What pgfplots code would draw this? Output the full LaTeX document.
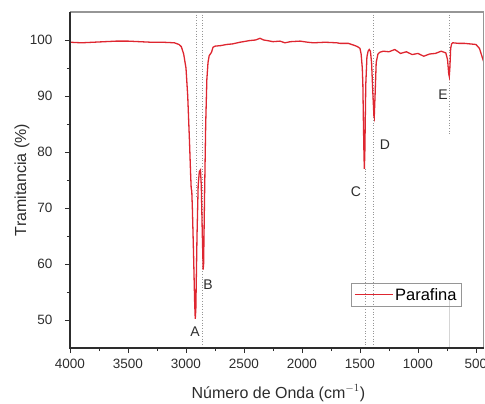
\documentclass[border=0pt]{standalone}
\usepackage{fontspec}
\setmainfont{Liberation Sans}
\usepackage{pgfplots}
\pgfplotsset{compat=1.18}
\definecolor{spec}{RGB}{222,38,48}
\definecolor{txt}{RGB}{45,45,45}
\definecolor{frame}{RGB}{150,150,150}

\begin{document}
\begin{tikzpicture}
\begin{axis}[
  scale only axis, width=413.5pt, height=336pt,
  x dir=reverse, xmin=435, xmax=4000,
  ymin=45, ymax=105,
  axis line style={draw=none},
  xtick={4000,3500,3000,2500,2000,1500,1000,500},
  ytick={50,60,70,80,90,100},
  minor tick num=1,
  xtick pos=bottom, ytick pos=left,
  tick align=outside,
  major tick length=5pt, minor tick length=3pt,
  every tick/.style={txt, line width=0.8pt},
  /pgf/number format/assume math mode=true,
  /pgf/number format/1000 sep={},
  tick label style={font=\fontsize{13.5}{15}\selectfont, text=txt},
  xticklabel style={yshift=-3pt},
  yticklabel style={xshift=-9pt},
  xlabel={Número de Onda (cm$^{-1}$)},
  ylabel={Tramitancia (\%)},
  label style={font=\fontsize{16}{18}\selectfont, text=txt},
  xlabel style={at={(axis description cs:0.504,-0.134)}, anchor=center},
  ylabel style={at={(axis description cs:-0.116,0.5)}, anchor=center, rotate=0},
  legend style={at={(axis description cs:0.948,0.122)}, anchor=south east,
    draw=frame, fill=none, line width=0.8pt, font=\fontsize{16.5}{18}\selectfont,
    inner xsep=3pt, inner ysep=3pt},
  legend image code/.code={\draw[spec, line width=1pt] (0pt,0pt) -- (38pt,0pt);},
]
% marker lines
\addplot[frame, dotted, line width=0.7pt, forget plot] coordinates {(2908,105)(2908,72)};
\addplot[frame, dotted, line width=0.7pt, forget plot] coordinates {(2860,105)(2860,45)};
\addplot[frame, dotted, line width=0.7pt, forget plot] coordinates {(1457,77)(1457,45)};
\addplot[frame, dotted, line width=0.7pt, forget plot] coordinates {(1384,105)(1384,45)};
\addplot[frame, dotted, line width=0.7pt, forget plot] coordinates {(733,105)(733,83)};
\addplot[frame!40, line width=0.4pt, forget plot] coordinates {(733,55)(733,45)};

\addplot[spec, line width=1.3pt] coordinates {
(4000,99.6)(3900,99.5)(3800,99.6)(3700,99.7)(3600,99.8)(3500,99.8)
(3400,99.7)(3300,99.6)(3200,99.6)(3100,99.5)(3060,99.2)(3040,98.8)
(3020,97.5)(3000,95)(2985,90)(2970,82)(2960,76)(2955,73.5)(2950,73)
(2945,70)(2935,62)(2925,53)(2920,50.2)(2915,52)(2905,65)(2895,74)
(2885,76.5)(2875,76.8)(2868,74)(2860,66)(2852,59)(2848,60)(2840,72)
(2830,85)(2820,93)(2810,96)(2800,97.2)(2780,97.8)(2767,98.7)(2750,98.9)
(2700,99.0)(2650,99.2)(2600,99.3)(2534,99.6)(2450,99.9)(2400,100.0)
(2362,100.3)(2330,100.0)(2300,99.9)(2250,99.7)(2190,99.8)(2147,99.5)
(2100,99.7)(2017,99.8)(1950,99.6)(1900,99.5)(1800,99.6)(1700,99.5)
(1672,99.4)(1600,99.4)(1543,99.0)(1520,98.8)(1500,98.5)(1490,97.5)
(1480,95)(1475,92)(1470,85)(1465,79)(1462,77)(1458,80)(1450,92)
(1440,97)(1430,98)(1420,98.3)(1410,98)(1400,96)(1390,91)(1380,86.5)
(1377,86.2)(1370,90)(1360,96)(1345,97.5)(1330,97.8)(1300,98.0)
(1250,97.9)(1200,98.3)(1150,97.6)(1100,97.9)(1050,97.4)(1000,97.6)
(950,97.1)(900,97.5)(850,97.6)(800,98.0)(760,97.7)(745,96.5)(735,94)
(730,93.5)(725,95)(718,98.5)(710,99.3)(700,99.5)(650,99.4)(600,99.4)
(550,99.3)(500,99.2)(470,98.5)(450,97.2)(435,96.2)
};
\addlegendentry{Parafina}

\node[txt, font=\fontsize{14}{16}\selectfont] at (axis cs:2922,47.9) {A};
\node[txt, font=\fontsize{14}{16}\selectfont] at (axis cs:2810,56.3) {B};
\node[txt, font=\fontsize{14}{16}\selectfont] at (axis cs:1534,72.9) {C};
\node[txt, font=\fontsize{14}{16}\selectfont] at (axis cs:1284,81.3) {D};
\node[txt, font=\fontsize{14}{16}\selectfont] at (axis cs:784,90.2) {E};

\coordinate (sw) at (rel axis cs:0,0);
\coordinate (ne) at (rel axis cs:1,1);
\end{axis}
\draw[frame, line width=1.6pt] (sw |- ne) -- (ne) -- (ne |- sw);
\draw[txt, line width=1.1pt] (sw |- ne) -- (sw) -- (ne |- sw);
\pgfresetboundingbox
\path[use as bounding box] ([shift={(-70pt,-56pt)}]sw) rectangle ([shift={(1.5pt,12pt)}]ne);
\end{tikzpicture}
\end{document}
